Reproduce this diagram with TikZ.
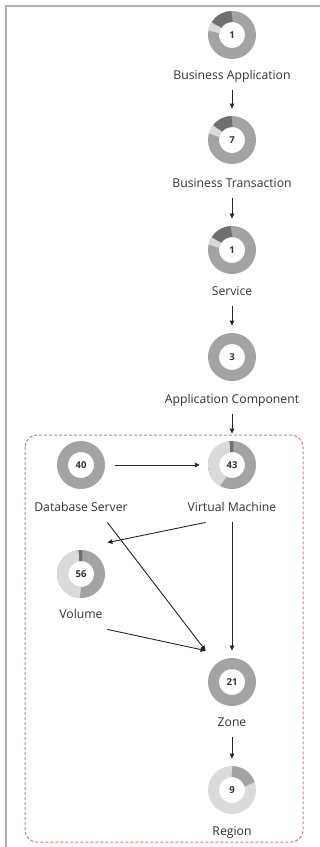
\documentclass[tikz,border=0pt]{standalone}
\usepackage{fontspec}
\setmainfont{Open Sans}
\usetikzlibrary{arrows.meta,fit}

\definecolor{ringmid}{HTML}{A3A3A3}
\definecolor{ringdark}{HTML}{6F6F6F}
\definecolor{ringlight}{HTML}{DADADA}
\definecolor{framegray}{HTML}{AAB2BA}
\definecolor{groupred}{HTML}{DB7B75}
\definecolor{txt}{HTML}{333333}

\tikzset{
  donut/.style={circle, minimum size=48pt, inner sep=0pt, text=txt, font=\fontsize{9.5}{10}\selectfont\bfseries},
  lbl/.style={inner sep=1.5pt, text=txt, text height=8.5pt, text depth=2.5pt, font=\fontsize{12.2}{14}\selectfont},
  entity/.style={inner xsep=2pt, inner ysep=7pt},
  link/.style={-{Triangle[length=5pt,width=4.5pt]}, line width=0.9pt, draw=black!85},
}

% ring round a donut node: base colour, then start/end/colour segments
\newcommand{\ring}[3]{%
  \draw[line width=11pt, #2] (#1.center) circle[radius=18.5pt];
  \foreach \a/\b/\c in {#3}
    \draw[line width=11pt, \c] (#1.center) ++(\a:18.5pt) arc[start angle=\a, end angle=\b, radius=18.5pt];
}

\begin{document}
\begin{tikzpicture}[x=1pt, y=1pt]
\useasboundingbox (0,0) rectangle (320,-847);
\draw[framegray, line width=1.5pt] (320,-5.75) -- (5.75,-5.75) -- (5.75,-847);
\draw[groupred, dash pattern=on 3pt off 2pt, rounded corners=12pt, line width=1pt] (25,-435) rectangle (303,-842);

\foreach \n/\x/\y/\ly/\num/\txt in {ba/232/35/76/1/Business Application,
  bt/232/140/184/7/Business Transaction, sv/232/250/292/1/Service,
  ac/232/357/400/3/Application Component, db/81/465/508/40/Database Server,
  vm/232/465/508/43/Virtual Machine, vol/81/574/615/56/Volume,
  zone/232/682/723/21/Zone, reg/232/790/832/9/Region}
{
  \node[donut] (\n) at (\x,-\y) {\num};
  \node[lbl] (\n-l) at (\x,-\ly) {\txt};
  \node[entity, fit=(\n.west)(\n.east)(\n.north)(\n-l.south)] (\n-box) {};
}

\ring{ba}{ringmid}{90/148/ringdark, 148/170/ringlight}
\ring{bt}{ringmid}{90/142/ringdark, 142/165/ringlight}
\ring{sv}{ringmid}{92/148/ringdark, 148/168/ringlight}
\ring{ac}{ringmid}{}
\ring{db}{ringmid}{}
\ring{vm}{ringmid}{96/242/ringlight, 86/96/ringdark}
\ring{vol}{ringmid}{96/268/ringlight, 86/96/ringdark}
\ring{zone}{ringmid}{}
\ring{reg}{ringlight}{18/90/ringmid}

\draw[link] (ba-box) -- (bt-box);
\draw[link] (bt-box) -- (sv-box);
\draw[link] (sv-box) -- (ac-box);
\draw[link] (ac-box) -- (vm-box);
\draw[link, shorten <=10pt, shorten >=8pt] (db) -- (vm);
\draw[link] (vm-box.south west) -- (vol-box.north east);
\draw[link] (db-box.south east) -- (zone-box.north west);
\draw[link] (vol-box.south east) -- (zone-box.north west);
\draw[link] (vm-box) -- (zone-box);
\draw[link] (zone-box) -- (reg-box);
\end{tikzpicture}
\end{document}
